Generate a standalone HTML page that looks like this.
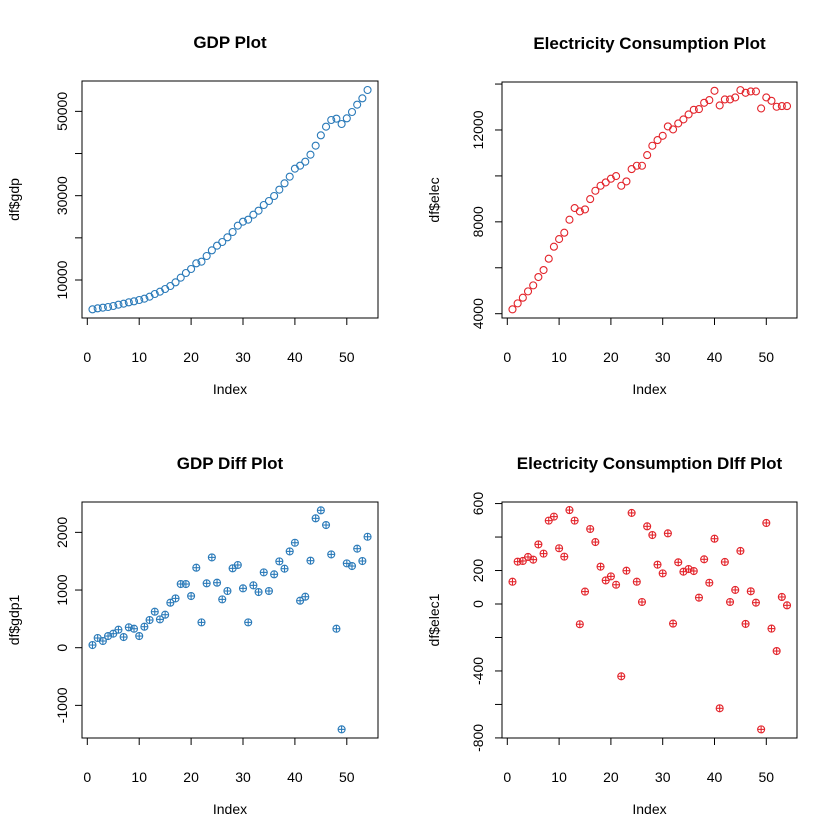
<!DOCTYPE html>
<html><head><meta charset="utf-8"><style>
body{margin:0;background:#fff}
svg{display:block;font-family:"Liberation Sans",sans-serif}
</style></head><body>
<svg id="c" width="840" height="840" viewBox="0 0 840 840" xmlns="http://www.w3.org/2000/svg"></svg>
<script>
const index = Array.from({length:54},(_, i)=>i+1);
const gdp = [3040,3277,3436,3594,3831,4147,4384,4700,4937,5254,5570,6044,6677,7230,7863,8575,9444,10551,11658,12607,13952,14347,15691,17035,18142,19012,20119,21384,22887,23835,24310,25496,26445,27789,28738,29926,31425,32928,34510,36407,37119,38068,39728,41863,44314,46370,47951,48268,47003,48347,49850,51589,53091,55068];
const elec = [4189,4450,4696,4972,5233,5596,5901,6394,6917,7250,7526,8092,8600,8455,8542,8991,9354,9572,9717,9877,9993,9572,9760,10297,10442,10442,10907,11313,11560,11748,12155,12024,12285,12459,12677,12880,12909,13185,13301,13707,13069,13330,13330,13417,13736,13620,13678,13678,12938,13417,13272,13011,13040,13040];
const gdp1 = [46,168,116,202,243,312,185,353,329,202,364,480,624,491,572,780,855,1104,1104,896,1387,439,1116,1566,1127,838,983,1376,1434,1029,439,1081,965,1306,983,1272,1497,1370,1670,1820,815,884,1509,2243,2382,2127,1618,329,-1416,1462,1416,1717,1503,1924];
const elec1 = [133,253,257,281,265,356,301,498,522,333,283,561,498,-121,74,448,370,223,141,165,115,-432,199,544,133,12,464,412,235,183,422,-117,249,193,209,197,38,267,127,390,-623,251,12,84,317,-119,76,8,-749,484,-147,-281,42,-8];
const xTicks = [0,10,20,30,40,50];
const gdpTicks = [10000,20000,30000,40000,50000];
const gdpLabels = [10000,30000,50000];
const elecTicks = [4000,6000,8000,10000,12000,14000];
const elecLabels = [4000,8000,12000];
const gdp1Ticks = [-1000,0,1000,2000];
const gdp1Labels = [-1000,0,1000,2000];
const elec1Ticks = [-800,-600,-400,-200,0,200,400,600];
const elec1Labels = [-800,-400,0,200,600];

const NS="http://www.w3.org/2000/svg";
const svg=document.getElementById('c');
function mk(t,a,p){const e=document.createElementNS(NS,t);for(const k in a)e.setAttribute(k,a[k]);(p||svg).appendChild(e);return e;}

const panels=[
 {name:'gdp-plot',title:'GDP Plot',ylab:'df$gdp',data:gdp,col:'#2a7ab9',plus:false,
  L:82,R:378,T:81,B:318,x0:87.3,xs:5.19,yv0:10000,yp0:280,ys:0.004216,yt:gdpTicks,yl:gdpLabels,ylx:62,yllx:14},
 {name:'electricity-plot',title:'Electricity Consumption Plot',ylab:'df$elec',data:elec,col:'#e3242b',plus:false,
  L:502,R:797,T:82,B:318,x0:507.3,xs:5.18,yv0:4000,yp0:313.7,ys:0.022965,yt:elecTicks,yl:elecLabels,ylx:478,yllx:434},
 {name:'gdp-diff-plot',title:'GDP Diff Plot',ylab:'df$gdp1',data:gdp1,col:'#2a7ab9',plus:true,
  L:82,R:378,T:502,B:738,x0:87.3,xs:5.19,yv0:0,yp0:647.7,ys:0.05767,yt:gdp1Ticks,yl:gdp1Labels,ylx:62,yllx:14},
 {name:'electricity-diff-plot',title:'Electricity Consumption DIff Plot',ylab:'df$elec1',data:elec1,col:'#e3242b',plus:true,
  L:502,R:797,T:502,B:738,x0:507.3,xs:5.18,yv0:0,yp0:604,ys:0.1674,yt:elec1Ticks,yl:elec1Labels,ylx:478,yllx:434}
];

panels.forEach(p=>{
 const g=mk('g',{});
 
 
 const X=v=>p.x0+v*p.xs, Y=v=>p.yp0-(v-p.yv0)*p.ys;
 const box=mk('rect',{x:p.L,y:p.T,width:p.R-p.L,height:p.B-p.T,fill:'none',stroke:'#000','stroke-width':1},g);
 
 
 const t=mk('text',{x:(p.L+p.R)/2,y:p.T-33,'text-anchor':'middle','font-size':17,'font-weight':'bold'},g);
 t.textContent=p.title;
 
 
 const xa=mk('g',{stroke:'#000','stroke-width':1},g);
 
 
 mk('line',{x1:X(xTicks[0]),x2:X(xTicks[xTicks.length-1]),y1:p.B,y2:p.B},xa);
 xTicks.forEach(v=>{
  mk('line',{x1:X(v),x2:X(v),y1:p.B,y2:p.B+7},xa);
  const tl=mk('text',{x:X(v),y:p.B+44,'text-anchor':'middle','font-size':14,stroke:'none'},g);
  tl.textContent=v;
  
  
 });
 const xl=mk('text',{x:(p.L+p.R)/2,y:p.B+76,'text-anchor':'middle','font-size':14},g);
 xl.textContent='Index';
 
 
 const ya=mk('g',{stroke:'#000','stroke-width':1},g);
 
 
 mk('line',{x1:p.L,x2:p.L,y1:Y(p.yt[0]),y2:Y(p.yt[p.yt.length-1])},ya);
 p.yt.forEach(v=>mk('line',{x1:p.L-7,x2:p.L,y1:Y(v),y2:Y(v)},ya));
 p.yl.forEach(v=>{
  const yy=Y(v);
  const tl=mk('text',{x:p.ylx+5,y:yy,'text-anchor':'middle','font-size':14,transform:`rotate(-90 ${p.ylx+5} ${yy})`},g);
  tl.textContent=v;
  
  
 });
 const cy=(p.T+p.B)/2;
 const yl=mk('text',{x:p.yllx+5,y:cy,'text-anchor':'middle','font-size':14,transform:`rotate(-90 ${p.yllx+5} ${cy})`},g);
 yl.textContent=p.ylab;
 
 
 const pts=mk('g',{stroke:p.col,fill:'none','stroke-width':1.1},g);
 
 
 p.data.forEach((v,i)=>{
  const cx=X(index[i]), cyy=Y(v);
  const c=mk('circle',{cx:cx,cy:cyy,r:3.5},pts);
  
  
  if(p.plus){
   mk('line',{x1:cx-3.5,x2:cx+3.5,y1:cyy,y2:cyy},pts);
   mk('line',{x1:cx,x2:cx,y1:cyy-3.5,y2:cyy+3.5},pts);
  }
 });
});
</script>
</body></html>
